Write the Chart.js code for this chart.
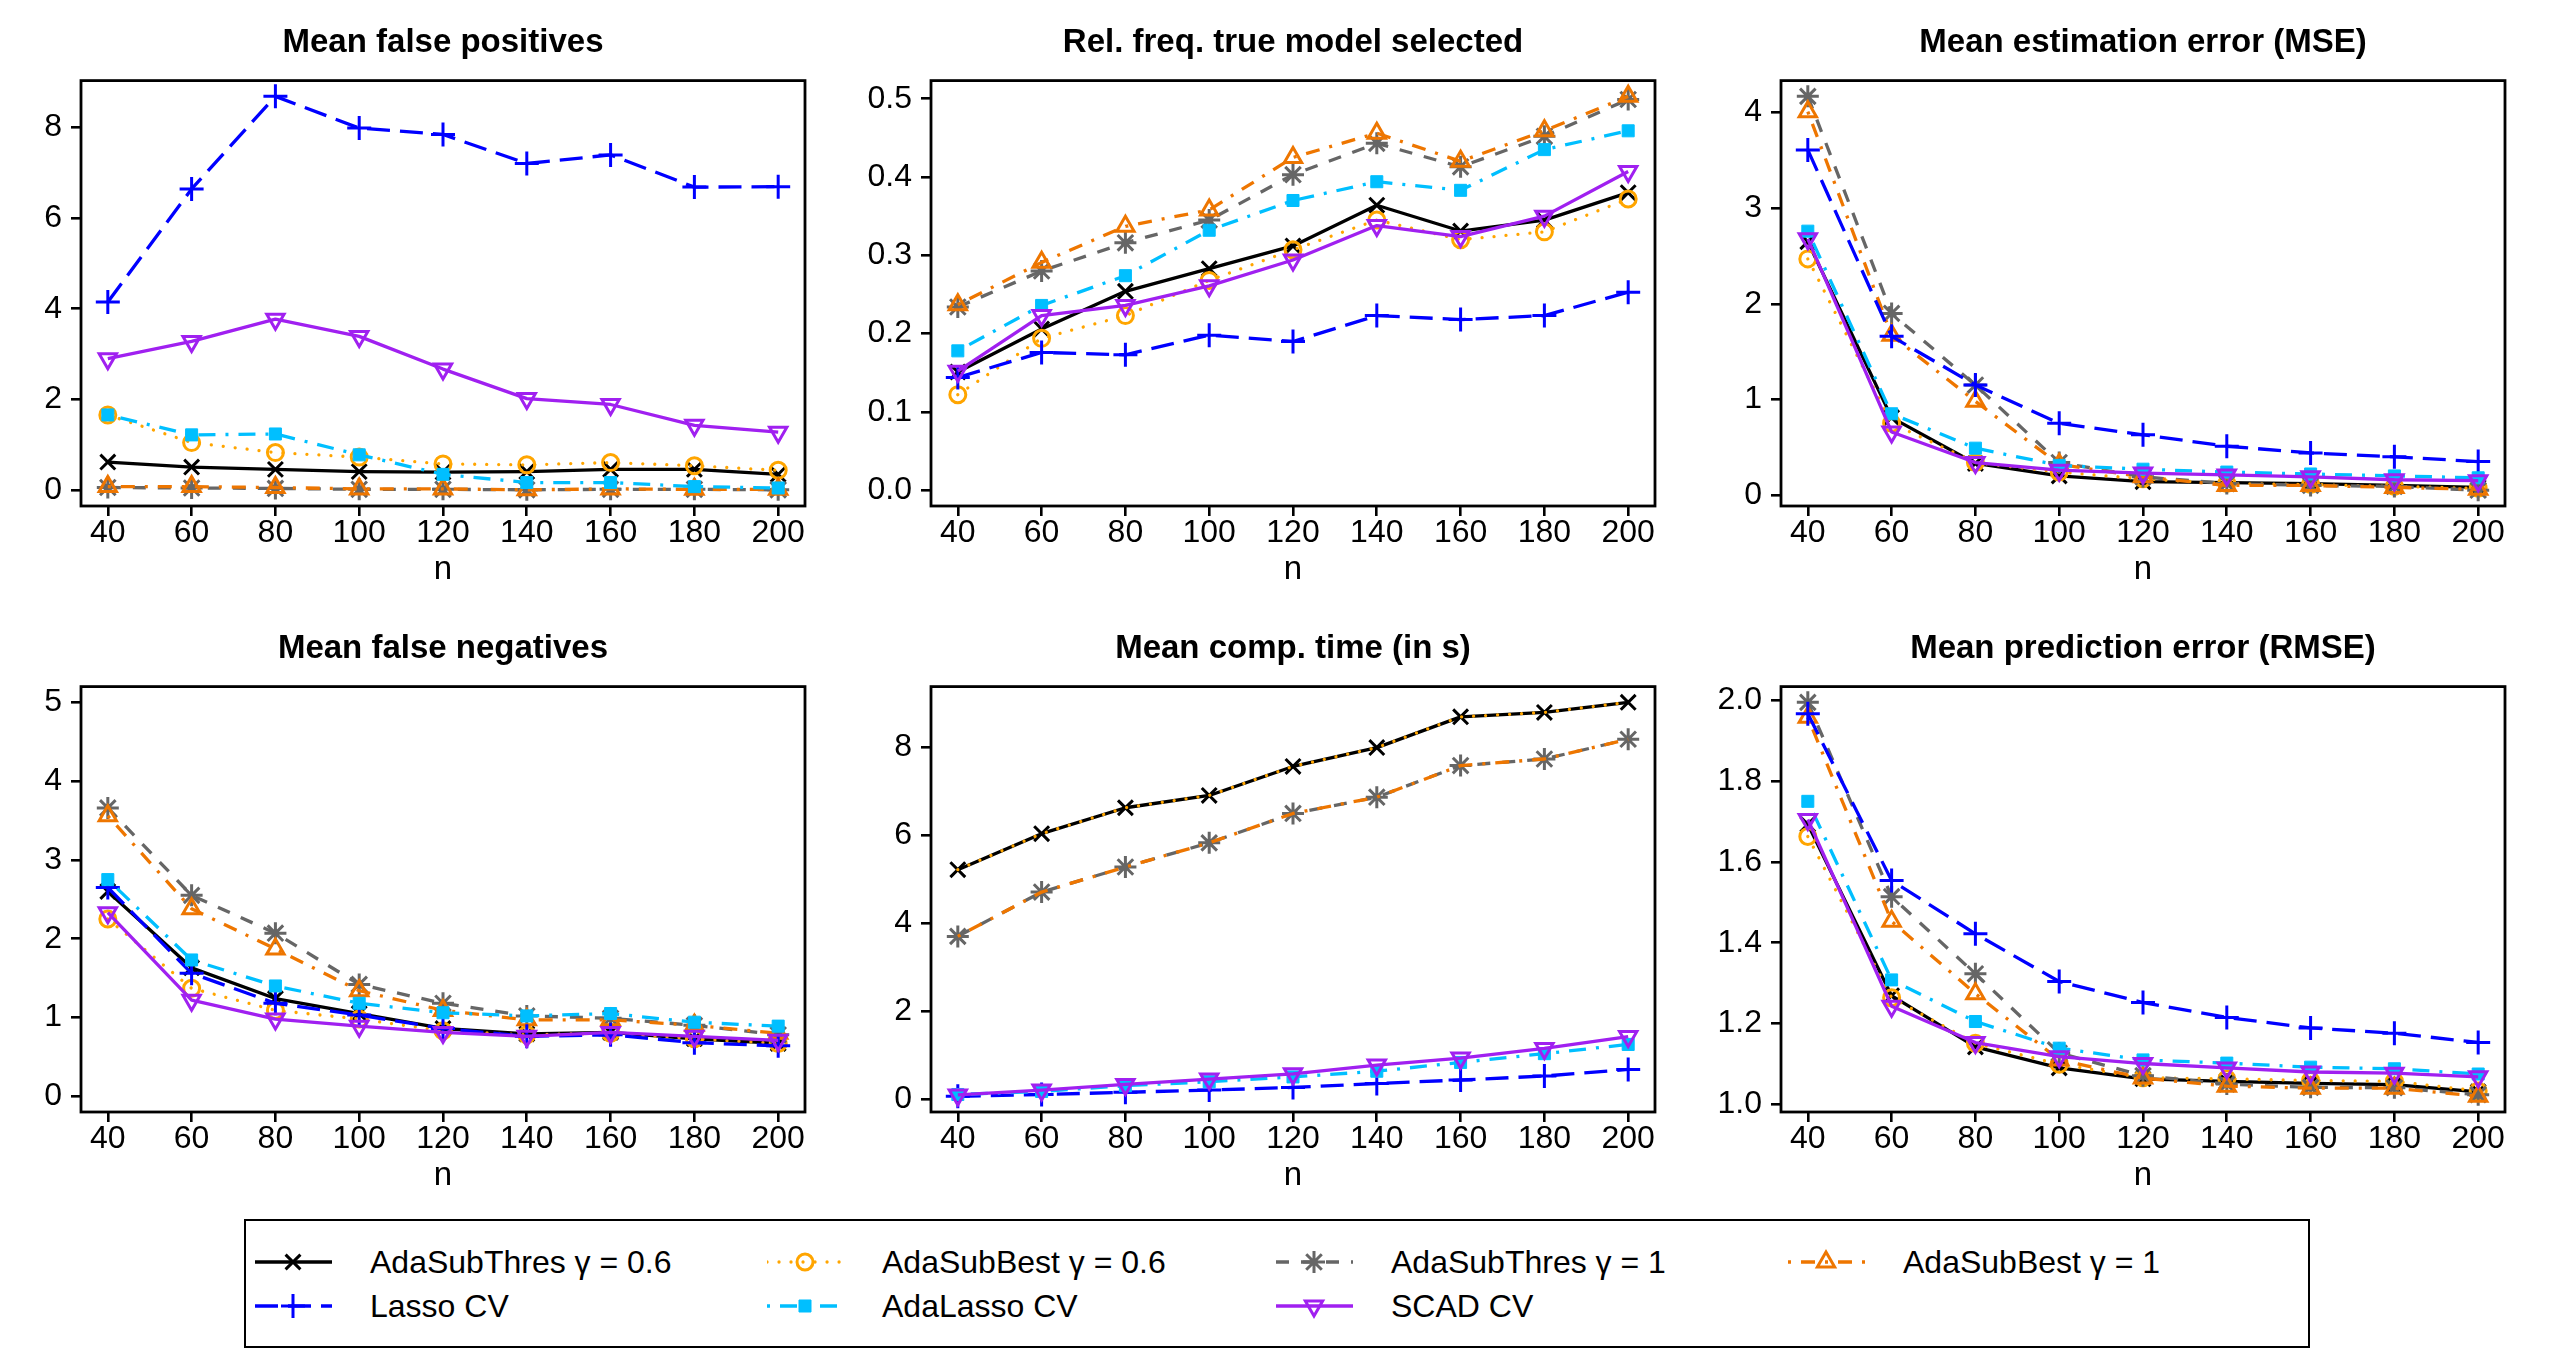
<!DOCTYPE html>
<html>
<head>
<meta charset="utf-8">
<script src="https://cdn.jsdelivr.net/npm/chart.js@4.4.1/dist/chart.umd.min.js"></script>
<style>
html,body{margin:0;padding:0;background:#ffffff;}
body{width:2550px;height:1350px;position:relative;overflow:hidden;font-family:"Liberation Sans",Arial,Helvetica,sans-serif;}
.panel{position:absolute;width:850px;height:606px;}
.panel canvas{display:block;}
#legendBox{position:absolute;left:244px;top:1219px;width:2066px;height:129px;border:2.7px solid #000;box-sizing:border-box;}
.litem{position:absolute;height:40px;}
.litem canvas{position:absolute;left:0;top:0;}
.litem span{position:absolute;left:115px;top:0;line-height:40px;font-size:32px;white-space:nowrap;color:#000;}
</style>
</head>
<body>
<div class="panel" style="left:0px;top:0px"><canvas id="c0" width="850" height="606"></canvas></div>
<div class="panel" style="left:850px;top:0px"><canvas id="c1" width="850" height="606"></canvas></div>
<div class="panel" style="left:1700px;top:0px"><canvas id="c2" width="850" height="606"></canvas></div>
<div class="panel" style="left:0px;top:606px"><canvas id="c3" width="850" height="606"></canvas></div>
<div class="panel" style="left:850px;top:606px"><canvas id="c4" width="850" height="606"></canvas></div>
<div class="panel" style="left:1700px;top:606px"><canvas id="c5" width="850" height="606"></canvas></div>
<div id="legendBox"></div>
<div id="legendItems"></div>
<script>
// ---------------- data ----------------
const nValues = [40, 60, 80, 100, 120, 140, 160, 180, 200];
const methodNames = ['AdaSubThres \u03b3 = 0.6', 'AdaSubBest \u03b3 = 0.6', 'AdaSubThres \u03b3 = 1',
  'AdaSubBest \u03b3 = 1', 'Lasso CV', 'AdaLasso CV', 'SCAD CV'];
const panelTitles = ['Mean false positives', 'Rel. freq. true model selected', 'Mean estimation error (MSE)',
  'Mean false negatives', 'Mean comp. time (in s)', 'Mean prediction error (RMSE)'];
const xAxisTitle = 'n';

// Mean false positives
const fpThres06  = [0.62, 0.51, 0.46, 0.41, 0.40, 0.41, 0.46, 0.46, 0.35];
const fpBest06   = [1.66, 1.05, 0.83, 0.73, 0.58, 0.56, 0.61, 0.54, 0.44];
const fpThres1   = [0.06, 0.05, 0.04, 0.02, 0.02, 0.01, 0.02, 0.02, 0.01];
const fpBest1    = [0.08, 0.08, 0.06, 0.03, 0.03, 0.01, 0.03, 0.02, 0.02];
const fpLasso    = [4.15, 6.64, 8.68, 7.98, 7.84, 7.20, 7.39, 6.68, 6.69];
const fpAdaLasso = [1.66, 1.22, 1.24, 0.78, 0.35, 0.17, 0.17, 0.08, 0.05];
const fpScad     = [2.90, 3.28, 3.77, 3.39, 2.67, 2.02, 1.89, 1.43, 1.28];

// Rel. freq. true model selected
const tmThres06  = [0.151, 0.206, 0.254, 0.283, 0.312, 0.364, 0.331, 0.345, 0.380];
const tmBest06   = [0.122, 0.194, 0.223, 0.268, 0.307, 0.345, 0.320, 0.330, 0.372];
const tmThres1   = [0.234, 0.280, 0.316, 0.345, 0.403, 0.443, 0.413, 0.452, 0.499];
const tmBest1    = [0.237, 0.291, 0.337, 0.358, 0.425, 0.456, 0.420, 0.459, 0.503];
const tmLasso    = [0.144, 0.176, 0.173, 0.198, 0.190, 0.223, 0.218, 0.223, 0.253];
const tmAdaLasso = [0.178, 0.236, 0.274, 0.332, 0.370, 0.394, 0.383, 0.435, 0.459];
const tmScad     = [0.152, 0.223, 0.236, 0.261, 0.294, 0.338, 0.324, 0.350, 0.407];

// Mean estimation error (MSE)
const mseThres06  = [2.65, 0.81, 0.33, 0.20, 0.14, 0.13, 0.12, 0.10, 0.08];
const mseBest06   = [2.47, 0.75, 0.34, 0.24, 0.17, 0.12, 0.11, 0.09, 0.07];
const mseThres1   = [4.17, 1.90, 1.15, 0.34, 0.19, 0.12, 0.10, 0.09, 0.05];
const mseBest1    = [4.01, 1.67, 0.98, 0.32, 0.19, 0.10, 0.10, 0.08, 0.06];
const mseLasso    = [3.61, 1.66, 1.15, 0.75, 0.63, 0.51, 0.44, 0.40, 0.35];
const mseAdaLasso = [2.76, 0.85, 0.49, 0.31, 0.27, 0.24, 0.22, 0.20, 0.18];
const mseScad     = [2.68, 0.66, 0.34, 0.26, 0.23, 0.21, 0.19, 0.16, 0.15];

// Mean false negatives
const fnThres06  = [2.60, 1.63, 1.24, 1.05, 0.86, 0.79, 0.81, 0.73, 0.67];
const fnBest06   = [2.25, 1.37, 1.09, 0.98, 0.83, 0.78, 0.80, 0.73, 0.67];
const fnThres1   = [3.66, 2.55, 2.07, 1.42, 1.18, 1.02, 0.99, 0.90, 0.78];
const fnBest1    = [3.56, 2.38, 1.87, 1.34, 1.09, 0.97, 0.97, 0.90, 0.80];
const fnLasso    = [2.65, 1.56, 1.18, 1.03, 0.86, 0.76, 0.78, 0.68, 0.64];
const fnAdaLasso = [2.75, 1.73, 1.40, 1.18, 1.06, 1.02, 1.05, 0.94, 0.89];
const fnScad     = [2.33, 1.22, 0.98, 0.89, 0.81, 0.76, 0.81, 0.76, 0.71];

// Mean comp. time (in s)
const ctThres06  = [5.22, 6.04, 6.63, 6.91, 7.57, 8.00, 8.70, 8.80, 9.03];
const ctBest06   = [5.22, 6.04, 6.63, 6.91, 7.57, 8.00, 8.70, 8.80, 9.03];
const ctThres1   = [3.70, 4.71, 5.28, 5.83, 6.50, 6.87, 7.59, 7.74, 8.19];
const ctBest1    = [3.70, 4.71, 5.28, 5.83, 6.50, 6.87, 7.59, 7.74, 8.19];
const ctLasso    = [0.06, 0.10, 0.15, 0.20, 0.26, 0.35, 0.43, 0.52, 0.67];
const ctAdaLasso = [0.10, 0.17, 0.30, 0.39, 0.50, 0.63, 0.83, 1.03, 1.24];
const ctScad     = [0.09, 0.20, 0.33, 0.45, 0.57, 0.77, 0.93, 1.15, 1.42];

// Mean prediction error (RMSE)
const peThres06  = [1.693, 1.269, 1.142, 1.090, 1.063, 1.057, 1.052, 1.049, 1.031];
const peBest06   = [1.663, 1.264, 1.151, 1.099, 1.066, 1.063, 1.059, 1.057, 1.033];
const peThres1   = [1.995, 1.514, 1.323, 1.127, 1.071, 1.050, 1.042, 1.041, 1.024];
const peBest1    = [1.958, 1.453, 1.274, 1.110, 1.065, 1.045, 1.040, 1.040, 1.020];
const peLasso    = [1.967, 1.554, 1.422, 1.304, 1.252, 1.215, 1.189, 1.176, 1.153];
const peAdaLasso = [1.750, 1.308, 1.205, 1.139, 1.110, 1.102, 1.092, 1.088, 1.075];
const peScad     = [1.705, 1.243, 1.153, 1.118, 1.101, 1.090, 1.080, 1.077, 1.068];

// tick values and labels
const xTicks = [40, 60, 80, 100, 120, 140, 160, 180, 200];
const yTicksFP = [0, 2, 4, 6, 8];
const yLabelsFP = ['0', '2', '4', '6', '8'];
const yTicksTM = [0, 0.1, 0.2, 0.3, 0.4, 0.5];
const yLabelsTM = ['0.0', '0.1', '0.2', '0.3', '0.4', '0.5'];
const yTicksMSE = [0, 1, 2, 3, 4];
const yLabelsMSE = ['0', '1', '2', '3', '4'];
const yTicksFN = [0, 1, 2, 3, 4, 5];
const yLabelsFN = ['0', '1', '2', '3', '4', '5'];
const yTicksCT = [0, 2, 4, 6, 8];
const yLabelsCT = ['0', '2', '4', '6', '8'];
const yTicksPE = [1.0, 1.2, 1.4, 1.6, 1.8, 2.0];
const yLabelsPE = ['1.0', '1.2', '1.4', '1.6', '1.8', '2.0'];

// ---------------- styles ----------------
const FONT = "'Liberation Sans', Arial, Helvetica, sans-serif";
Chart.defaults.font.family = FONT;
const LW = 3.3;
const PBW = 3;
const seriesStyles = [
  {color: '#000000', dash: [],              cap: 'butt',  point: 'crossRot', r: 10.5, rot: 0,   filled: false},
  {color: '#FFA500', dash: [0.01, 12],      cap: 'round', point: 'circle',   r: 8,    rot: 0,   filled: false},
  {color: '#666666', dash: [13, 12],        cap: 'butt',  point: 'star',     r: 11,   rot: 0,   filled: false},
  {color: '#EE7600', dash: [3, 10, 14, 10], cap: 'butt',  point: 'triangle', r: 10,   rot: 0,   filled: false},
  {color: '#0000FF', dash: [23, 10],        cap: 'butt',  point: 'cross',    r: 12,   rot: 0,   filled: false},
  {color: '#00BFFF', dash: [3, 10, 17, 10], cap: 'butt',  point: 'rect',     r: 8.5,  rot: 0,   filled: true},
  {color: '#A020F0', dash: [],              cap: 'butt',  point: 'triangle', r: 10,   rot: 180, filled: false}
];

function ylimFrom(series, lo, hi) {
  const all = [].concat(...series);
  const a = (lo === null) ? Math.min(...all) : lo;
  const b = (hi === null) ? Math.max(...all) : hi;
  const ext = (b - a) * 0.04;
  return [a - ext, b + ext];
}

const boxPlugin = {
  id: 'boxPlugin',
  afterDatasetsDraw(chart) {
    const a = chart.chartArea, c = chart.ctx;
    c.save();
    c.strokeStyle = '#000';
    c.lineWidth = 2.8;
    c.setLineDash([]);
    c.strokeRect(a.left, a.top, a.right - a.left, a.bottom - a.top);
    c.restore();
  }
};

function makePanel(id, title, series, yTicks, yLabels, lo, hi, noMarker) {
  const yl = ylimFrom(series, lo, hi);
  const xl = [40 - 160 * 0.04, 200 + 160 * 0.04];
  const datasets = series.map((vals, i) => {
    const st = seriesStyles[i];
    return {
      label: methodNames[i],
      data: nValues.map((x, j) => ({x: x, y: vals[j]})),
      borderColor: st.color,
      backgroundColor: st.color,
      borderWidth: LW,
      borderDash: st.dash,
      borderCapStyle: st.cap,
      borderJoinStyle: 'round',
      tension: 0,
      fill: false,
      pointStyle: st.point,
      pointRadius: (noMarker && noMarker.indexOf(i) >= 0) ? 0 : st.r,
      pointRotation: st.rot,
      pointBorderColor: st.color,
      pointBackgroundColor: st.filled ? st.color : 'rgba(0,0,0,0)',
      pointBorderWidth: st.filled ? 1 : PBW,
      order: 10 - i
    };
  });
  const gridOpts = {display: true, drawOnChartArea: false, drawTicks: true, tickLength: 10,
    tickColor: '#000', tickWidth: 2.6, color: '#000', lineWidth: 2.6};
  return new Chart(document.getElementById(id), {
    type: 'line',
    data: {datasets: datasets},
    options: {
      responsive: false, animation: false, devicePixelRatio: 1, events: [],
      layout: {padding: {left: 0, right: 45, top: 0, bottom: 0}},
      plugins: {
        legend: {display: false},
        tooltip: {enabled: false},
        title: {display: true, text: title, fullSize: false, color: '#000',
          font: {family: FONT, size: 33, weight: 'bold', lineHeight: 1.2},
          padding: {top: 23, bottom: 18}}
      },
      scales: {
        x: {
          type: 'linear', min: xl[0], max: xl[1],
          afterBuildTicks: s => { s.ticks = xTicks.map(v => ({value: v})); },
          afterFit: s => { s.height = 100; },
          grid: gridOpts,
          border: {display: false},
          ticks: {color: '#000', font: {family: FONT, size: 32, lineHeight: 1}, padding: 1,
            maxRotation: 0, autoSkip: false, callback: v => String(v)},
          title: {display: true, text: xAxisTitle, color: '#000',
            font: {family: FONT, size: 33, lineHeight: 1.2}, padding: {top: 0, bottom: 16}}
        },
        y: {
          type: 'linear', min: yl[0], max: yl[1],
          afterBuildTicks: s => { s.ticks = yTicks.map(v => ({value: v})); },
          afterFit: s => { s.width = 81; },
          grid: gridOpts,
          border: {display: false},
          ticks: {color: '#000', font: {family: FONT, size: 32, lineHeight: 1}, padding: 9,
            autoSkip: false,
            callback: (v) => {
              const k = yTicks.findIndex(t => Math.abs(t - v) < 1e-9);
              return k >= 0 ? yLabels[k] : '';
            }}
        }
      }
    },
    plugins: [boxPlugin]
  });
}

makePanel('c0', panelTitles[0], [fpThres06, fpBest06, fpThres1, fpBest1, fpLasso, fpAdaLasso, fpScad],
  yTicksFP, yLabelsFP, 0, null, null);
makePanel('c1', panelTitles[1], [tmThres06, tmBest06, tmThres1, tmBest1, tmLasso, tmAdaLasso, tmScad],
  yTicksTM, yLabelsTM, 0, null, null);
makePanel('c2', panelTitles[2], [mseThres06, mseBest06, mseThres1, mseBest1, mseLasso, mseAdaLasso, mseScad],
  yTicksMSE, yLabelsMSE, null, null, null);
makePanel('c3', panelTitles[3], [fnThres06, fnBest06, fnThres1, fnBest1, fnLasso, fnAdaLasso, fnScad],
  yTicksFN, yLabelsFN, 0, 5, null);
makePanel('c4', panelTitles[4], [ctThres06, ctBest06, ctThres1, ctBest1, ctLasso, ctAdaLasso, ctScad],
  yTicksCT, yLabelsCT, null, null, [1, 3]);
makePanel('c5', panelTitles[5], [peThres06, peBest06, peThres1, peBest1, peLasso, peAdaLasso, peScad],
  yTicksPE, yLabelsPE, null, null, null);

// ---------------- legend ----------------
function drawMarker(ctx, st, x, y) {
  const r = st.r;
  ctx.save();
  ctx.setLineDash([]);
  ctx.lineWidth = st.filled ? 1 : PBW;
  ctx.strokeStyle = st.color;
  ctx.fillStyle = st.filled ? st.color : 'rgba(0,0,0,0)';
  ctx.beginPath();
  const rad = st.rot * Math.PI / 180;
  if (st.point === 'circle') {
    ctx.arc(x, y, r, 0, Math.PI * 2);
  } else if (st.point === 'triangle') {
    let a = rad;
    ctx.moveTo(x + Math.sin(a) * r, y - Math.cos(a) * r);
    a += 2 * Math.PI / 3;
    ctx.lineTo(x + Math.sin(a) * r, y - Math.cos(a) * r);
    a += 2 * Math.PI / 3;
    ctx.lineTo(x + Math.sin(a) * r, y - Math.cos(a) * r);
    ctx.closePath();
  } else if (st.point === 'rect') {
    const s = Math.SQRT1_2 * r;
    ctx.rect(x - s, y - s, 2 * s, 2 * s);
  } else {
    const cr = (st.point === 'cross' || st.point === 'star');
    const xr = (st.point === 'crossRot' || st.point === 'star');
    if (cr) { ctx.moveTo(x - r, y); ctx.lineTo(x + r, y); ctx.moveTo(x, y - r); ctx.lineTo(x, y + r); }
    if (xr) { const d = Math.SQRT1_2 * r; ctx.moveTo(x - d, y - d); ctx.lineTo(x + d, y + d); ctx.moveTo(x - d, y + d); ctx.lineTo(x + d, y - d); }
  }
  ctx.fill();
  ctx.stroke();
  ctx.restore();
}

const legendColX = [255, 767, 1276, 1788];
const legendRowY = [1262, 1306];
const holder = document.getElementById('legendItems');
methodNames.forEach((name, i) => {
  const row = i < 4 ? 0 : 1;
  const col = i < 4 ? i : i - 4;
  const st = seriesStyles[i];
  const div = document.createElement('div');
  div.className = 'litem';
  div.style.left = legendColX[col] + 'px';
  div.style.top = (legendRowY[row] - 20) + 'px';
  const cv = document.createElement('canvas');
  cv.width = 80; cv.height = 40;
  div.appendChild(cv);
  const sp = document.createElement('span');
  sp.textContent = name;
  div.appendChild(sp);
  holder.appendChild(div);
  const ctx = cv.getContext('2d');
  ctx.strokeStyle = st.color;
  ctx.lineWidth = LW;
  ctx.lineCap = st.cap;
  ctx.setLineDash(st.dash);
  ctx.beginPath();
  ctx.moveTo(0, 20);
  ctx.lineTo(77, 20);
  ctx.stroke();
  drawMarker(ctx, st, 38, 20);
});
</script>
</body>
</html>
